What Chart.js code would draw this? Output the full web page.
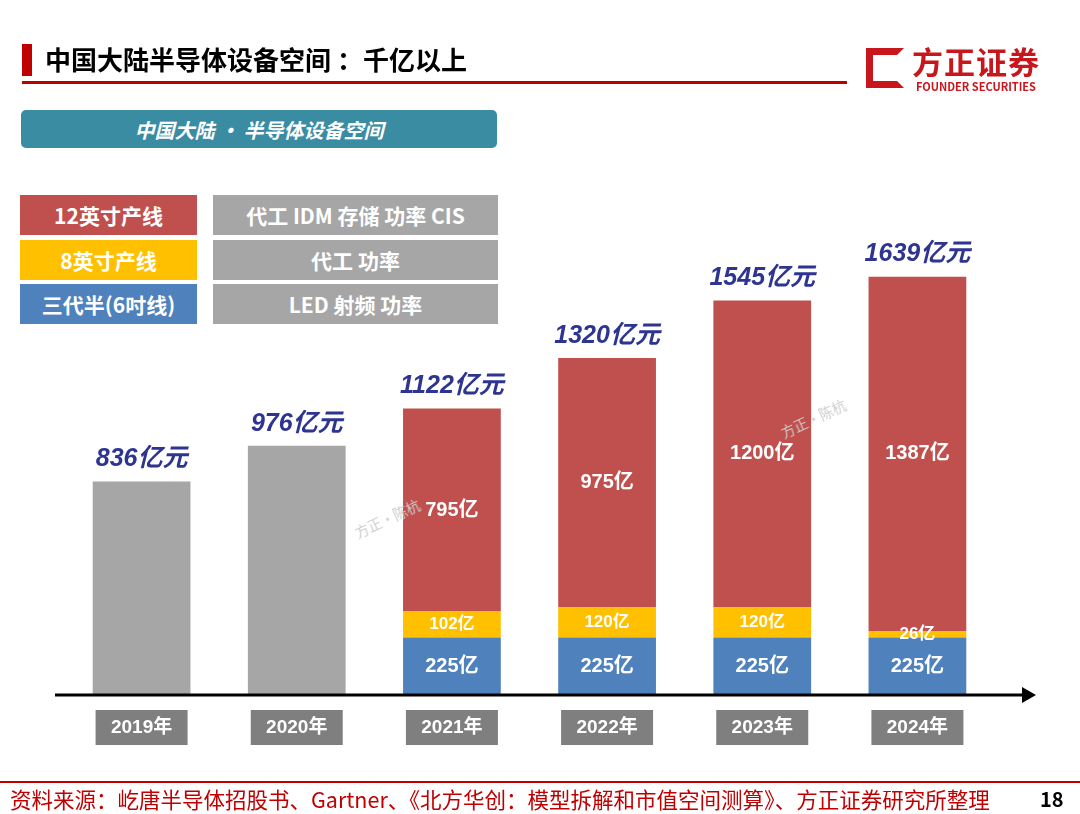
<!DOCTYPE html>
<html><head><meta charset="utf-8">
<script src="https://cdn.jsdelivr.net/npm/chart.js@4"></script>
<style>
body{margin:0;width:1080px;height:814px;position:relative;background:#fff;font-family:"Noto Sans CJK SC","Liberation Sans",sans-serif;overflow:hidden}
#c{position:absolute;left:0;top:0}
.a{position:absolute;z-index:2}
.box{position:absolute;color:#fff;font-weight:bold;font-size:21px;display:flex;align-items:center;justify-content:center;z-index:2}
</style></head><body>
<canvas id="c" width="1080" height="814"></canvas>
<div class="a" style="left:22px;top:44px;width:10px;height:32px;background:#c00000"></div>
<div class="a" style="left:45px;top:40px;font-size:26px;font-weight:bold;color:#000">中国大陆半导体设备空间 ：千亿以上</div>
<div class="a" style="left:22px;top:81px;width:825px;height:3px;background:#c00000"></div>
<div class="a" style="left:866px;top:48px;width:38px;height:40px;border:7px solid #c8161d;box-sizing:border-box;border-right-color:transparent"></div>
<div class="a" style="left:912px;top:38px;font-size:31px;font-weight:bold;color:#c8161d;letter-spacing:1px">方正证券</div>
<div class="a" style="left:916px;top:78px;font-size:11px;font-weight:bold;color:#c8161d">FOUNDER SECURITIES</div>
<div class="box" style="left:21px;top:110px;width:476px;height:38px;background:#3a8ca3;border-radius:5px;font-style:italic;font-size:20px">中国大陆 · 半导体设备空间</div>
<div class="box" style="left:20px;top:195px;width:177px;height:40px;background:#c0504d">12英寸产线</div>
<div class="box" style="left:213px;top:195px;width:285px;height:40px;background:#a6a6a6">代工 IDM 存储 功率 CIS</div>
<div class="box" style="left:20px;top:240px;width:177px;height:40px;background:#ffc000">8英寸产线</div>
<div class="box" style="left:213px;top:240px;width:285px;height:40px;background:#a6a6a6">代工 功率</div>
<div class="box" style="left:20px;top:284px;width:177px;height:40px;background:#4f81bd">三代半(6吋线)</div>
<div class="box" style="left:213px;top:284px;width:285px;height:40px;background:#a6a6a6">LED 射频 功率</div>
<div class="a" style="left:0;top:781px;width:1080px;height:2px;background:#c00000"></div>
<div class="a" style="left:10px;top:783px;font-size:21.5px;color:#c00000">资料来源：屹唐半导体招股书、Gartner、《北方华创：模型拆解和市值空间测算》、方正证券研究所整理</div>
<div class="a" style="left:1040px;top:784px;font-size:20px;font-weight:bold;color:#000">18</div>
<div class="a" style="left:352px;top:508px;font-size:14px;color:#ccc;transform:rotate(-25deg)">方正·陈杭</div>
<div class="a" style="left:778px;top:408px;font-size:14px;color:#ccc;transform:rotate(-25deg)">方正·陈杭</div>
<script>
var years = ['2019年','2020年','2021年','2022年','2023年','2024年'];
var totalVals = [836, 976, 1122, 1320, 1545, 1639];
var grayVals = [836, 976, null, null, null, null];
var blueVals = [null, null, 225, 225, 225, 225];
var yellowVals = [null, null, 102, 120, 120, 26];
var redVals = [null, null, 795, 975, 1200, 1387];

var deco = {
  id: 'deco',
  afterDatasetsDraw: function(chart) {
    var c = chart.ctx, x = chart.scales.x, y = chart.scales.y;
    var base = y.getPixelForValue(0);
    c.save();
    c.strokeStyle = '#000'; c.lineWidth = 3;
    c.beginPath(); c.moveTo(55, base); c.lineTo(1025, base); c.stroke();
    c.fillStyle = '#000';
    c.beginPath(); c.moveTo(1036, base); c.lineTo(1022, base - 8); c.lineTo(1022, base + 8); c.fill();
    c.textAlign = 'center'; c.textBaseline = 'middle';
    years.forEach(function(t, i) {
      var px = x.getPixelForValue(i);
      c.fillStyle = '#7f7f7f';
      c.fillRect(px - 46, base + 15, 92, 35);
      c.fillStyle = '#fff'; c.font = 'bold 19px "Liberation Sans","Noto Sans CJK SC"';
      c.fillText(t, px, base + 33);
      c.fillStyle = '#2e3591'; c.font = 'italic bold 25px "Liberation Sans","Noto Sans CJK SC"';
      c.fillText(totalVals[i] + '亿元', px, y.getPixelForValue(totalVals[i]) - 22);
    });
    [blueVals, yellowVals, redVals].forEach(function(arr, di) {
      var meta = chart.getDatasetMeta(di + 1);
      arr.forEach(function(v, i) {
        if (v == null) return;
        var el = meta.data[i];
        c.fillStyle = '#fff';
        c.font = (di == 1 ? 'bold 17px' : 'bold 20px') + ' "Liberation Sans","Noto Sans CJK SC"';
        c.fillText(v + '亿', el.x, (el.y + el.base) / 2);
      });
    });
    c.restore();
  }
};

new Chart(document.getElementById('c'), {
  type: 'bar',
  data: {
    labels: years,
    datasets: [
      { data: grayVals, backgroundColor: '#a6a6a6' },
      { data: blueVals, backgroundColor: '#4f81bd' },
      { data: yellowVals, backgroundColor: '#ffc000' },
      { data: redVals, backgroundColor: '#c0504d' }
    ]
  },
  options: {
    responsive: false,
    animation: false,
    layout: { padding: { left: 64, right: 85, top: 215, bottom: 119 } },
    datasets: { bar: { categoryPercentage: 1, barPercentage: 0.63, borderWidth: 0 } },
    plugins: { legend: { display: false }, tooltip: { enabled: false } },
    scales: {
      x: { stacked: true, display: false },
      y: { stacked: true, display: false, min: 0, max: 1880 }
    }
  },
  plugins: [deco]
});
</script>
</body></html>
